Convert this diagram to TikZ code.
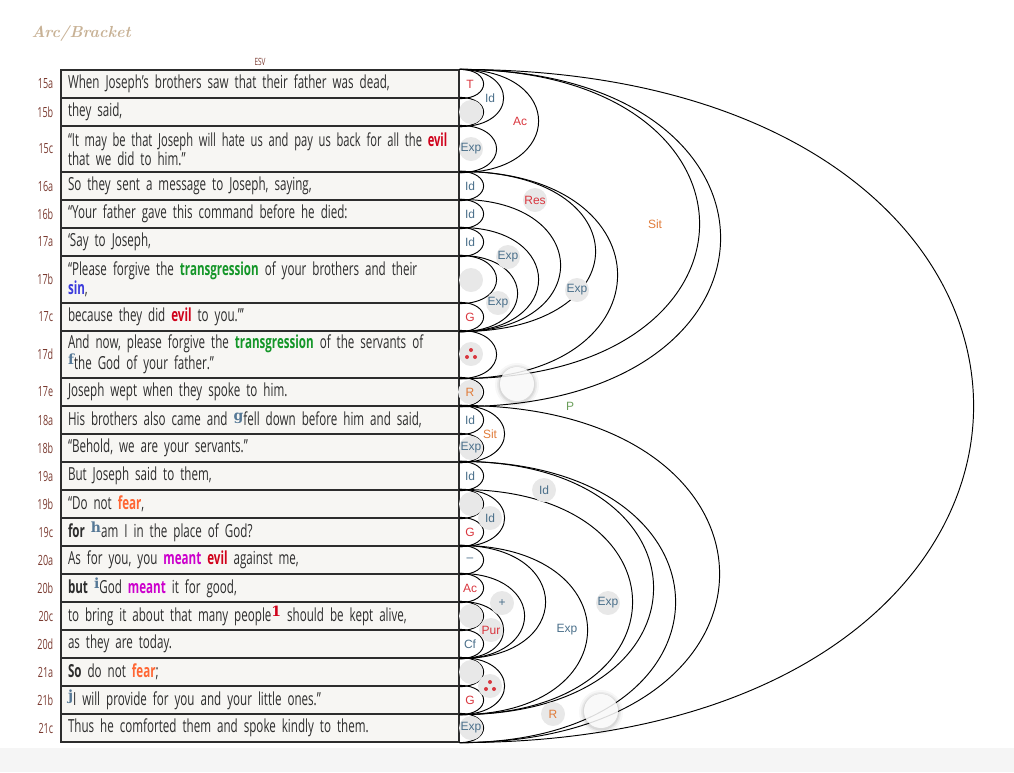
\documentclass[tikz,border=0pt]{standalone}
\usepackage{fontspec}
\usepackage{xcolor}
\usepackage{graphicx}
\usepackage{tikz}
\usetikzlibrary{positioning}
\newfontfamily\rowfont{Open Sans}[FakeStretch=0.645]
\newfontfamily\lblfont{Liberation Sans}
\newfontfamily\notefont{DejaVu Serif}
\DeclareRobustCommand{\rowtype}{\rowfont\fontsize{18}{19}\selectfont}
\definecolor{rowfill}{RGB}{247,246,243}
\definecolor{rowtext}{RGB}{45,45,45}
\definecolor{versered}{RGB}{122,58,48}
\definecolor{titletan}{RGB}{200,178,150}
\definecolor{lblblue}{RGB}{74,111,138}
\definecolor{lblred}{RGB}{217,54,62}
\definecolor{lblorange}{RGB}{224,123,57}
\definecolor{lblgreen}{RGB}{106,158,90}
\definecolor{evilred}{RGB}{208,2,27}
\definecolor{transgreen}{RGB}{20,150,40}
\definecolor{sinblue}{RGB}{60,60,220}
\definecolor{fearorange}{RGB}{255,102,51}
\definecolor{meantpink}{RGB}{204,0,204}
\definecolor{notesteel}{RGB}{85,120,150}
\tikzset{
    rowbox/.style={rectangle, draw=rowtext, fill=rowfill, line width=1.2pt, minimum width=398pt, text width=384pt, align=left, inner xsep=7pt, inner ysep=0pt, font=\rowtype, text=rowtext},
    versenum/.style={font=\rowfont\fontsize{14}{15}\selectfont, text=versered, inner sep=0pt},
    arcline/.style={draw=black, line width=0.95pt},
    rel/.style={font=\lblfont\fontsize{12}{14}\selectfont, inner sep=0pt},
    mainrel/.style={rel, circle, fill=black!9, minimum size=24pt},
    dotmark/.style={fill=lblred},
    hovermark/.style={circle, fill=white, fill opacity=0.85, minimum size=34pt, inner sep=0pt}
}
\newcommand{\hl}[2]{\textcolor{#1}{\bfseries #2}}
\newcommand{\fn}[2][notesteel]{\raisebox{5pt}{\notefont\bfseries\fontsize{14}{14}\selectfont\textcolor{#1}{#2}}}
\newcommand{\bracketarc}[3]{\draw[arcline] (#1.north east) .. controls ([xshift=#3*4/3]#1.north east) and ([xshift=#3*4/3]#2.south east) .. (#2.south east);}
% three dots of an inference mark, round a label node
\newcommand{\thereforedots}[1]{%
    \fill[dotmark] ([yshift=4]#1.center) circle (2);
    \fill[dotmark] ([xshift=-4, yshift=-3]#1.center) circle (2);
    \fill[dotmark] ([xshift=4, yshift=-3]#1.center) circle (2);}

\begin{document}
\begin{tikzpicture}[x=1pt, y=-1pt]
    \useasboundingbox (0,0) rectangle (1014,772);
    \fill[black!4] (0,748) rectangle (1014,772);

    % Heading
    \node[anchor=west, font=\rmfamily\bfseries\itshape\fontsize{16}{18}\selectfont, text=titletan] (title) at (28,33) {Arc/Bracket};
    \node[versenum, font=\rowfont\fontsize{10}{12}\selectfont] (esv) at (260,62) {ESV};

    % Propositions
    \node[rowbox, minimum height=28pt] (r15a) at (260,84) {When Joseph’s brothers saw that their father was dead,};
    \node[rowbox, minimum height=28pt] (r15b) at (260,112) {they said,};
    \node[rowbox, minimum height=46pt] (r15c) at (260,149) {\scalebox{0.96}[1]{“It may be that Joseph will hate us and pay us back for all the \hl{evilred}{evil}}\\\mbox{that we did to him.”}};
    \node[rowbox, minimum height=28pt] (r16a) at (260,186) {So they sent a message to Joseph, saying,};
    \node[rowbox, minimum height=28pt] (r16b) at (260,214) {“Your father gave this command before he died:};
    \node[rowbox, minimum height=28pt] (r17a) at (260,242) {‘Say to Joseph,};
    \node[rowbox, minimum height=47pt] (r17b) at (260,279.5) {\mbox{“Please forgive the \hl{transgreen}{transgression} of your brothers and their}\\\mbox{\hl{sinblue}{sin},}};
    \node[rowbox, minimum height=28pt] (r17c) at (260,317) {because they did \hl{evilred}{evil} to you.”’};
    \node[rowbox, minimum height=47pt] (r17d) at (260,354.5) {\mbox{And now, please forgive the \hl{transgreen}{transgression} of the servants of}\\\mbox{\fn{f}the God of your father.”}};
    \node[rowbox, minimum height=28pt] (r17e) at (260,392) {Joseph wept when they spoke to him.};
    \node[rowbox, minimum height=28pt] (r18a) at (260,420) {His brothers also came and \fn{g}fell down before him and said,};
    \node[rowbox, minimum height=28pt] (r18b) at (260,448) {“Behold, we are your servants.”};
    \node[rowbox, minimum height=28pt] (r19a) at (260,476) {But Joseph said to them,};
    \node[rowbox, minimum height=28pt] (r19b) at (260,504) {“Do not \hl{fearorange}{fear},};
    \node[rowbox, minimum height=28pt] (r19c) at (260,532) {\textbf{for} \fn{h}am I in the place of God?};
    \node[rowbox, minimum height=28pt] (r20a) at (260,560) {As for you, you \hl{meantpink}{meant} \hl{evilred}{evil} against me,};
    \node[rowbox, minimum height=28pt] (r20b) at (260,588) {\textbf{but} \fn{i}God \hl{meantpink}{meant} it for good,};
    \node[rowbox, minimum height=28pt] (r20c) at (260,616) {to bring it about that many people\fn[evilred]{1} should be kept alive,};
    \node[rowbox, minimum height=28pt] (r20d) at (260,644) {as they are today.};
    \node[rowbox, minimum height=28pt] (r21a) at (260,672) {\textbf{So} do not \hl{fearorange}{fear};};
    \node[rowbox, minimum height=28pt] (r21b) at (260,700) {\fn{j}I will provide for you and your little ones.”};
    \node[rowbox, minimum height=28pt] (r21c) at (260,728) {Thus he comforted them and spoke kindly to them.};

    % Verse numbers
    \node[versenum, left=7pt of r15a] (v15a) {15a};
    \node[versenum, left=7pt of r15b] (v15b) {15b};
    \node[versenum, left=7pt of r15c] (v15c) {15c};
    \node[versenum, left=7pt of r16a] (v16a) {16a};
    \node[versenum, left=7pt of r16b] (v16b) {16b};
    \node[versenum, left=7pt of r17a] (v17a) {17a};
    \node[versenum, left=7pt of r17b] (v17b) {17b};
    \node[versenum, left=7pt of r17c] (v17c) {17c};
    \node[versenum, left=7pt of r17d] (v17d) {17d};
    \node[versenum, left=7pt of r17e] (v17e) {17e};
    \node[versenum, left=7pt of r18a] (v18a) {18a};
    \node[versenum, left=7pt of r18b] (v18b) {18b};
    \node[versenum, left=7pt of r19a] (v19a) {19a};
    \node[versenum, left=7pt of r19b] (v19b) {19b};
    \node[versenum, left=7pt of r19c] (v19c) {19c};
    \node[versenum, left=7pt of r20a] (v20a) {20a};
    \node[versenum, left=7pt of r20b] (v20b) {20b};
    \node[versenum, left=7pt of r20c] (v20c) {20c};
    \node[versenum, left=7pt of r20d] (v20d) {20d};
    \node[versenum, left=7pt of r21a] (v21a) {21a};
    \node[versenum, left=7pt of r21b] (v21b) {21b};
    \node[versenum, left=7pt of r21c] (v21c) {21c};

    % Arcs, one per proposition
    \bracketarc{r15a}{r15a}{24}
    \bracketarc{r15b}{r15b}{24}
    \bracketarc{r15c}{r15c}{37}
    \bracketarc{r16a}{r16a}{24}
    \bracketarc{r16b}{r16b}{24}
    \bracketarc{r17a}{r17a}{24}
    \bracketarc{r17b}{r17b}{37}
    \bracketarc{r17c}{r17c}{24}
    \bracketarc{r17d}{r17d}{37}
    \bracketarc{r17e}{r17e}{24}
    \bracketarc{r18a}{r18a}{24}
    \bracketarc{r18b}{r18b}{24}
    \bracketarc{r19a}{r19a}{24}
    \bracketarc{r19b}{r19b}{24}
    \bracketarc{r19c}{r19c}{24}
    \bracketarc{r20a}{r20a}{24}
    \bracketarc{r20b}{r20b}{24}
    \bracketarc{r20c}{r20c}{24}
    \bracketarc{r20d}{r20d}{24}
    \bracketarc{r21a}{r21a}{24}
    \bracketarc{r21b}{r21b}{24}
    \bracketarc{r21c}{r21c}{24}

    % Arcs over groups (15a-17e)
    \bracketarc{r15a}{r15b}{44}
    \bracketarc{r15a}{r15c}{79}
    \bracketarc{r17b}{r17c}{58}
    \bracketarc{r17a}{r17c}{79}
    \bracketarc{r16b}{r17c}{101}
    \bracketarc{r16a}{r17c}{136}
    \bracketarc{r16a}{r17d}{158}
    \bracketarc{r15a}{r17d}{240}
    \bracketarc{r15a}{r17e}{261}

    % Arcs over groups (18a-21c)
    \bracketarc{r18a}{r18b}{45}
    \bracketarc{r19b}{r19c}{45}
    \bracketarc{r20c}{r20d}{44}
    \bracketarc{r20b}{r20d}{65}
    \bracketarc{r20a}{r20d}{86}
    \bracketarc{r21a}{r21b}{45}
    \bracketarc{r20a}{r21b}{128}
    \bracketarc{r19b}{r21b}{173}
    \bracketarc{r19a}{r21b}{194}
    \bracketarc{r19a}{r21c}{216}
    \bracketarc{r18a}{r21c}{260}

    % Arc over the whole passage
    \bracketarc{r15a}{r21c}{514}

    % Relation labels (15a-17e)
    \node[rel, text=lblred] (l15a) at (470,84) {T};
    \node[mainrel] (l15b) at (471,112) {};
    \node[rel, text=lblblue] (l15ab) at (490,98) {Id};
    \node[rel, text=lblred] (l15ac) at (520,121) {Ac};
    \node[mainrel, text=lblblue] (l15c) at (471,149) {Exp};
    \node[rel, text=lblblue] (l16a) at (470,186) {Id};
    \node[mainrel, text=lblred] (lres) at (535,200) {Res};
    \node[rel, text=lblorange] (lsit) at (655,224) {Sit};
    \node[rel, text=lblblue] (l16b) at (470,214) {Id};
    \node[rel, text=lblblue] (l17a) at (470,242) {Id};
    \node[mainrel, text=lblblue] (lexpa) at (508,257) {Exp};
    \node[mainrel] (l17b) at (471,280) {};
    \node[mainrel, text=lblblue] (lexpb) at (577,290) {Exp};
    \node[mainrel, text=lblblue] (lexpc) at (498,303) {Exp};
    \node[rel, text=lblred] (l17c) at (470,317) {G};
    \node[mainrel] (l17d) at (471,354) {};
    \thereforedots{l17d}
    \node[mainrel, text=lblorange] (l17e) at (470,392) {R};
    \node[rel, text=lblgreen] (lprog) at (570,406) {P};

    % Relation labels (18a-21c)
    \node[rel, text=lblblue] (l18a) at (470,420) {Id};
    \node[rel, text=lblorange] (l18ab) at (490,434) {Sit};
    \node[mainrel, text=lblblue] (l18b) at (471,448) {Exp};
    \node[rel, text=lblblue] (l19a) at (470,476) {Id};
    \node[mainrel, text=lblblue] (lida) at (544,490) {Id};
    \node[mainrel] (l19b) at (471,504) {};
    \node[mainrel, text=lblblue] (l19bc) at (490,518) {Id};
    \node[rel, text=lblred] (l19c) at (470,532) {G};
    \node[rel, text=lblblue] (l20a) at (470,560) {–};
    \node[rel, text=lblred] (l20b) at (470,588) {Ac};
    \node[mainrel, text=lblblue] (lpos) at (502,603) {+};
    \node[mainrel] (l20c) at (471,616) {};
    \node[mainrel, text=lblred] (l20cd) at (491,630) {Pur};
    \node[rel, text=lblblue] (lexpd) at (567,630) {Exp};
    \node[mainrel, text=lblblue] (lexpe) at (608,603) {Exp};
    \node[rel, text=lblblue] (l20d) at (470,644) {Cf};
    \node[mainrel] (l21a) at (471,672) {};
    \node[mainrel] (l21ab) at (490,686) {};
    \thereforedots{l21ab}
    \node[rel, text=lblred] (l21b) at (470,700) {G};
    \node[mainrel, text=lblorange] (lresp) at (553,714) {R};
    \node[mainrel, text=lblblue] (l21c) at (471,728) {Exp};

    % Hover marks
    \foreach \r/\o in {22/0.03, 20/0.05, 18.5/0.07} {
        \fill[black, opacity=\o] (517,385) circle (\r);
        \fill[black, opacity=\o] (601,712) circle (\r);
    }
    \node[hovermark] (hovera) at (517,384) {};
    \node[hovermark] (hoverb) at (601,711) {};

\end{tikzpicture}
\end{document}
